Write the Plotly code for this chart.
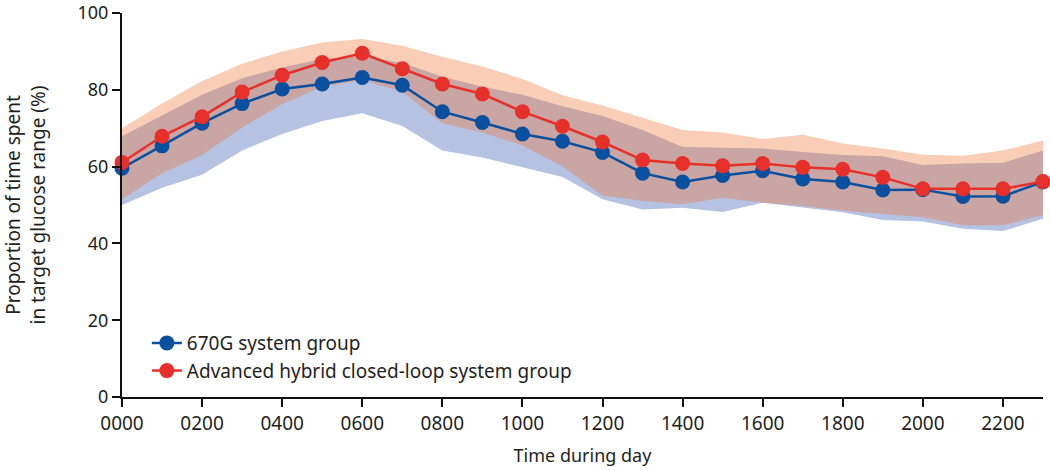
import plotly.graph_objects as go

hours = list(range(24))
tick_vals = list(range(0, 24, 2))
tick_text = ["0000", "0200", "0400", "0600", "0800", "1000", "1200",
             "1400", "1600", "1800", "2000", "2200"]

g670_mean = [59.6, 65.4, 71.3, 76.4, 80.2, 81.5, 83.2, 81.2, 74.3, 71.5, 68.5, 66.6,
             63.7, 58.3, 56.0, 57.7, 58.9, 56.8, 56.0, 53.9, 54.0, 52.2, 52.3, 56.0]
g670_upper = [67.9, 73.2, 78.7, 83.0, 85.8, 88.0, 88.8, 87.0, 83.4, 80.8, 78.7, 75.7,
              73.2, 69.5, 65.1, 64.9, 64.7, 63.8, 63.0, 62.7, 60.4, 60.8, 61.0, 64.2]
g670_lower = [50.0, 54.5, 57.9, 64.2, 68.5, 71.9, 73.9, 70.6, 64.2, 62.4, 59.8, 57.3,
              51.5, 48.8, 49.3, 48.2, 50.6, 49.3, 48.1, 46.1, 45.7, 43.8, 43.2, 46.4]

ahcl_mean = [61.1, 67.9, 73.0, 79.4, 83.8, 87.1, 89.5, 85.5, 81.5, 78.9, 74.3, 70.5,
             66.4, 61.7, 60.8, 60.2, 60.8, 59.8, 59.3, 57.2, 54.2, 54.2, 54.2, 56.1]
ahcl_upper = [70.0, 76.4, 82.3, 86.8, 90.0, 92.3, 93.2, 91.5, 88.6, 86.1, 82.8, 78.6,
              75.9, 72.6, 69.5, 68.9, 67.2, 68.3, 66.0, 64.7, 63.1, 62.8, 64.2, 66.8]
ahcl_lower = [51.5, 58.3, 63.0, 70.2, 76.3, 80.8, 82.5, 79.5, 71.3, 68.9, 65.5, 60.0,
              52.5, 51.1, 50.2, 51.9, 50.6, 49.8, 48.5, 47.6, 46.8, 44.7, 44.7, 47.4]

FONT = "Noto Sans"
TXT = "#231F20"
BLUE = "#0A50A0"
RED = "#E8302A"
BLUE_BAND = "rgb(181,194,226)"
RED_BAND = "rgba(238,112,46,0.35)"

fig = go.Figure()

# 670G band
fig.add_trace(go.Scatter(x=hours, y=g670_lower, mode="lines", line=dict(width=0),
                         showlegend=False, hoverinfo="skip"))
fig.add_trace(go.Scatter(x=hours, y=g670_upper, mode="lines", line=dict(width=0),
                         fill="tonexty", fillcolor=BLUE_BAND, showlegend=False,
                         hoverinfo="skip"))
# AHCL band
fig.add_trace(go.Scatter(x=hours, y=ahcl_lower, mode="lines", line=dict(width=0),
                         showlegend=False, hoverinfo="skip"))
fig.add_trace(go.Scatter(x=hours, y=ahcl_upper, mode="lines", line=dict(width=0),
                         fill="tonexty", fillcolor=RED_BAND, showlegend=False,
                         hoverinfo="skip"))

fig.add_trace(go.Scatter(x=hours, y=g670_mean, mode="lines+markers",
                         name="670G system group",
                         line=dict(color=BLUE, width=2.5),
                         marker=dict(color=BLUE, size=15), cliponaxis=False))
fig.add_trace(go.Scatter(x=hours, y=ahcl_mean, mode="lines+markers",
                         name="Advanced hybrid closed-loop system group",
                         line=dict(color=RED, width=2.5),
                         marker=dict(color=RED, size=15), cliponaxis=False))

fig.update_layout(
    width=1050, height=470,
    margin=dict(l=122, r=7, t=13, b=73),
    paper_bgcolor="white", plot_bgcolor="white",
    font=dict(family=FONT, size=18, color=TXT),
    showlegend=True,
    legend=dict(x=0.027, y=0.19, xanchor="left", yanchor="top",
                traceorder="normal",
                font=dict(family=FONT, size=19, color=TXT),
                bgcolor="rgba(0,0,0,0)", tracegroupgap=0, itemwidth=30),
)
fig.update_xaxes(range=[0, 23], tickvals=tick_vals, ticktext=tick_text,
                 automargin=False, ticklabeloverflow="allow",
                 showgrid=False, zeroline=False, showline=True, linecolor="#111111",
                 linewidth=2, ticks="outside", ticklen=8, tickwidth=2, tickcolor="#111111",
                 title=dict(text="Time during day", standoff=15, font=dict(size=18)),
                 tickfont=dict(size=19))
fig.update_yaxes(range=[0, 100], tickvals=[0, 20, 40, 60, 80, 100],
                 automargin=False, ticklabeloverflow="allow",
                 showgrid=False, zeroline=False, showline=True, linecolor="#111111",
                 linewidth=2, ticks="outside", ticklen=8, tickwidth=2, tickcolor="#111111",
                 title=dict(text="Proportion of time spent<br>in target glucose range (%)",
                            standoff=29, font=dict(size=19)),
                 tickfont=dict(size=18))

fig.write_html("out.html", config={"displayModeBar": False},
               post_script="document.body.style.margin='0';")
